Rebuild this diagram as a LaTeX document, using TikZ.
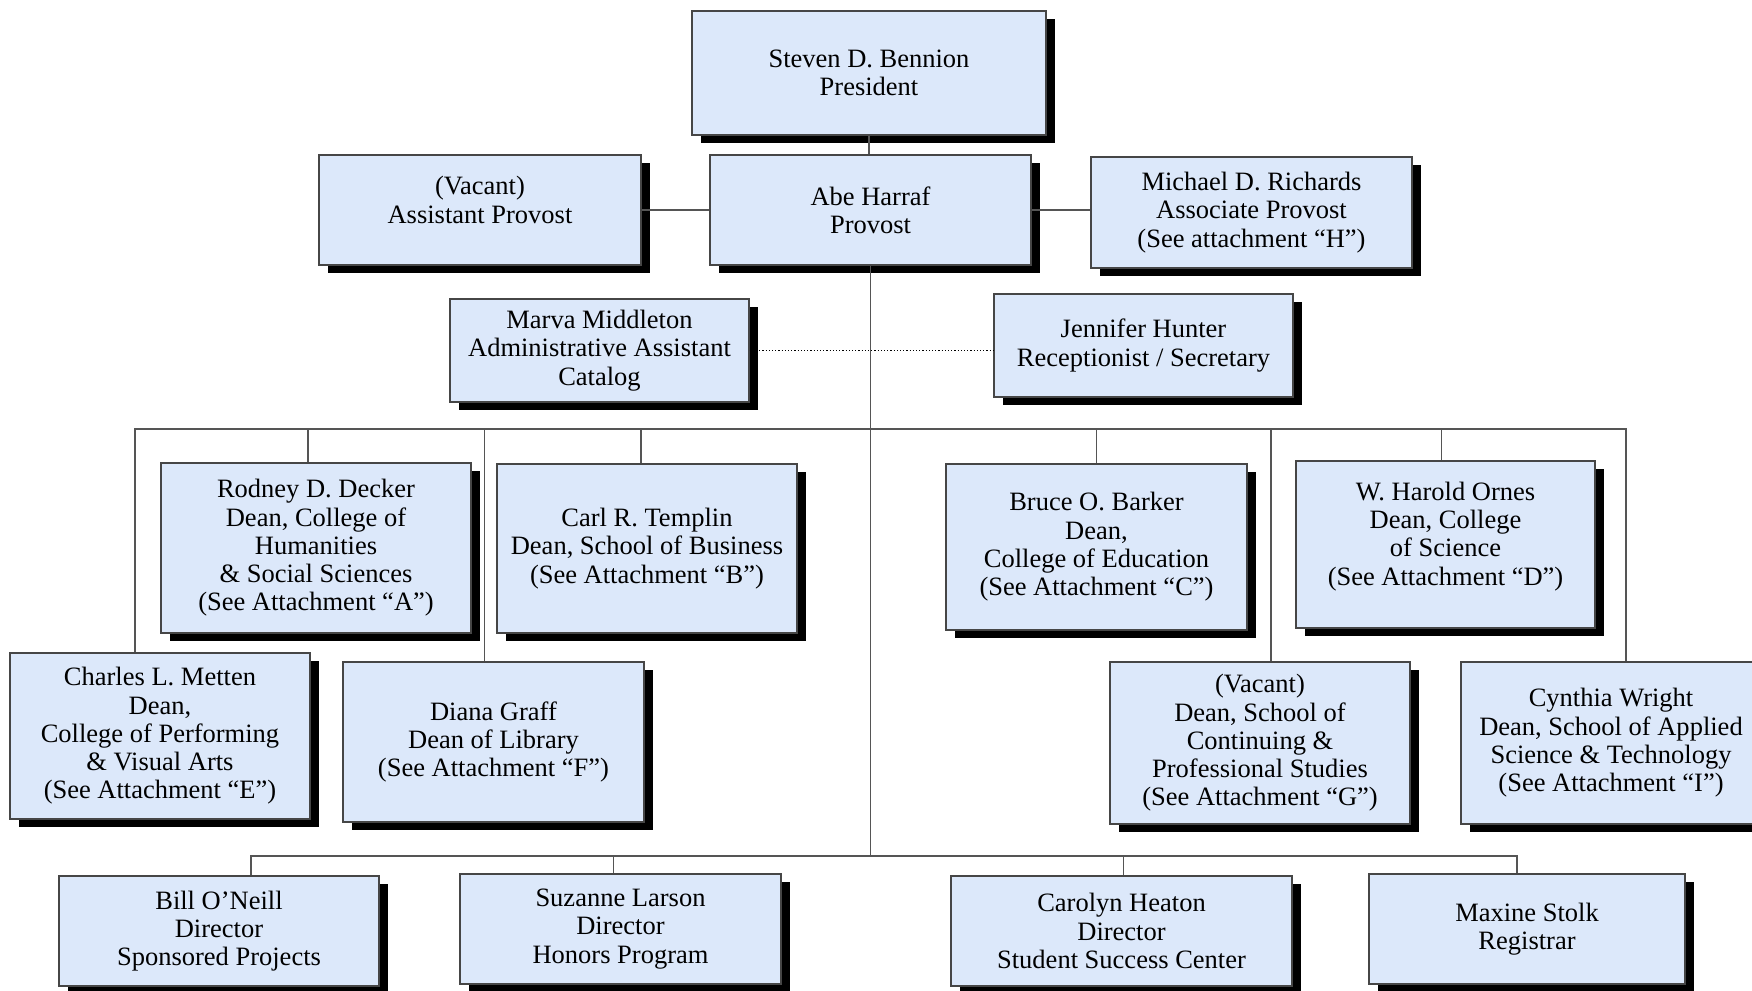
\documentclass[tikz,border=0pt]{standalone}
\usepackage{fontspec}
\setmainfont{Liberation Serif}
\usetikzlibrary{shadows}

\definecolor{boxblue}{RGB}{220,232,250}
\definecolor{boxline}{RGB}{70,70,70}
\definecolor{linkgray}{RGB}{85,85,85}

\tikzset{
  box/.style={draw=boxline, line width=1.2pt, fill=boxblue, align=center, inner sep=0pt,
    font=\fontsize{26.5}{28.3}\selectfont,
    general shadow={fill=black, shadow xshift=9pt, shadow yshift=-8pt}},
  link/.style={draw=linkgray, line width=1.3pt},
}

\begin{document}
\begin{tikzpicture}[x=1pt,y=-1pt]
    \useasboundingbox (0,0) rectangle (1752,990);

    % president and provost office
    \node[box, minimum width=354pt, minimum height=124pt] (pres) at (869,73) {Steven D. Bennion\\President};
    \node[box, minimum width=322pt, minimum height=110pt] (asst) at (480,210) {(Vacant)\\Assistant Provost\\[-8pt]};
    \node[box, minimum width=321pt, minimum height=110pt] (prov) at (870.5,210) {Abe Harraf\\Provost};
    \node[box, minimum width=321pt, minimum height=111pt] (assoc) at (1251.5,212.5) {Michael D. Richards\\Associate Provost\\(See attachment ``H'')};
    \node[box, minimum width=299pt, minimum height=103pt] (marva) at (599.5,350.5) {Marva Middleton\\Administrative Assistant\\Catalog};
    \node[box, minimum width=299pt, minimum height=103pt] (jenn) at (1143.5,345.5) {Jennifer Hunter\\Receptionist / Secretary};

    % deans, upper row
    \node[box, minimum width=310pt, minimum height=170pt] (decker) at (316,548) {Rodney D. Decker\\Dean, College of\\Humanities\\\& Social Sciences\\(See Attachment ``A'')};
    \node[box, minimum width=300pt, minimum height=169pt] (templin) at (647,548.5) {Carl R. Templin\\Dean, School of Business\\(See Attachment ``B'')};
    \node[box, minimum width=301pt, minimum height=166pt] (barker) at (1096.5,547) {Bruce O. Barker\\Dean,\\College of Education\\(See Attachment ``C'')};
    \node[box, minimum width=299pt, minimum height=167pt] (ornes) at (1445.5,544.5) {W. Harold Ornes\\Dean, College\\of Science\\(See Attachment ``D'')\\[-6pt]};

    % deans, lower row
    \node[box, minimum width=300pt, minimum height=166pt] (metten) at (160,736) {Charles L. Metten\\Dean,\\College of Performing\\\& Visual Arts\\(See Attachment ``E'')};
    \node[box, minimum width=301pt, minimum height=160pt] (graff) at (493.5,742) {Diana Graff\\Dean of Library\\(See Attachment ``F'')};
    \node[box, minimum width=300pt, minimum height=162pt] (contin) at (1260,743) {(Vacant)\\Dean, School of\\Continuing \&\\Professional Studies\\(See Attachment ``G'')};
    \node[box, minimum width=300pt, minimum height=162pt] (wright) at (1611,743) {Cynthia Wright\\Dean, School of Applied\\Science \& Technology\\(See Attachment ``I'')};

    % directors
    \node[box, minimum width=320pt, minimum height=110pt] (oneill) at (219,931) {Bill O'Neill\\Director\\Sponsored Projects};
    \node[box, minimum width=321pt, minimum height=110pt] (larson) at (620.5,929) {Suzanne Larson\\Director\\Honors Program};
    \node[box, minimum width=341pt, minimum height=110pt] (heaton) at (1121.5,931) {Carolyn Heaton\\Director\\Student Success Center};
    \node[box, minimum width=316pt, minimum height=110pt] (stolk) at (1527,929) {Maxine Stolk\\Registrar};

    % links at the top
    \draw[link] (pres.south) -- (pres.south |- prov.north);
    \draw[link] (asst.east) -- (prov.west);
    \draw[link] (prov.east) -- (prov.east -| assoc.west);
    \draw[dotted, line width=1.2pt] (marva.east) -- (marva.east -| jenn.west);

    % trunk and the two buses
    \coordinate (busA) at (870.5,429);
    \coordinate (busB) at (870.5,856);
    \draw[link] (prov.south) -- (busB);
    \draw[link] (busA) -| ([xshift=-25pt]metten.north);
    \draw[link] (busA) -| ([xshift=15pt]wright.north);
    \foreach \n/\dx in {decker/-8, graff/-9, templin/-6, barker/0, contin/11, ornes/-4}
        \draw[link] ([xshift=\dx pt]\n.north) -- ([xshift=\dx pt]\n.north |- busA);

    \draw[link] (busB) -| ([xshift=32pt]oneill.north);
    \draw[link] (busB) -| ([xshift=-10pt]stolk.north);
    \foreach \n/\dx in {larson/-7, heaton/2}
        \draw[link] ([xshift=\dx pt]\n.north) -- ([xshift=\dx pt]\n.north |- busB);
\end{tikzpicture}
\end{document}
